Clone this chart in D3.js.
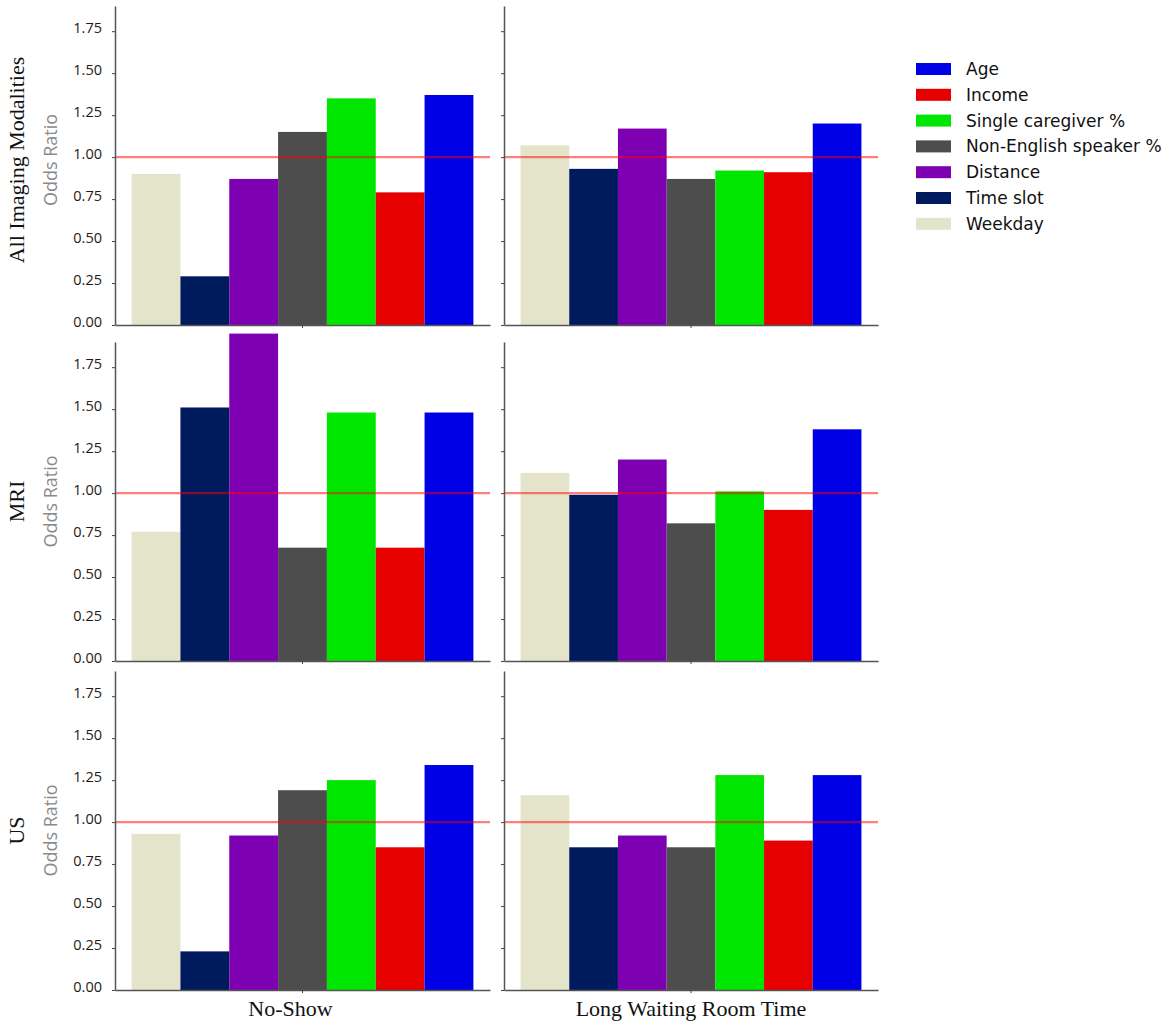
<!DOCTYPE html>
<html>
<head>
<meta charset="utf-8">
<script src="https://cdn.jsdelivr.net/npm/d3@7"></script>
<style>
  body { margin: 0; background: white; }
  svg { display: block; }
</style>
</head>
<body>
<svg></svg>
<script>
const factors = ['Weekday', 'Time slot', 'Distance', 'Non-English speaker %', 'Single caregiver %', 'Income', 'Age']
const factorColors = ['#e4e4cb', '#001a5e', '#7d00b2', '#4d4d4d', '#00e600', '#e60000', '#0000e6']
const outcomes = ['No-Show', 'Long Waiting Room Time']
const modalities = ['All Imaging Modalities', 'MRI', 'US']
const yTicks = [0, 0.25, 0.5, 0.75, 1.0, 1.25, 1.5, 1.75]

const allNoShow = [0.90, 0.29, 0.87, 1.15, 1.35, 0.79, 1.37]
const allWaiting = [1.07, 0.93, 1.17, 0.87, 0.92, 0.91, 1.20]
const mriNoShow = [0.77, 1.51, 1.95, 0.675, 1.48, 0.675, 1.48]
const mriWaiting = [1.12, 0.99, 1.20, 0.82, 1.01, 0.90, 1.38]
const usNoShow = [0.93, 0.23, 0.92, 1.19, 1.25, 0.85, 1.34]
const usWaiting = [1.16, 0.85, 0.92, 0.85, 1.28, 0.89, 1.28]

const panelValues = [
    [allNoShow, allWaiting],
    [mriNoShow, mriWaiting],
    [usNoShow, usWaiting]
]

function drawChart(){
    const width = 1170
    const height = 1024
    const rowBase = [325, 661, 990]
    const rowHeight = 319
    const colStart = [115, 504]
    const colEnd = [490, 878]

    let svg = d3.select('svg')
        .attr('width', width)
        .attr('height', height)

    const color = d3.scaleOrdinal().domain(factors).range(factorColors)

    modalities.forEach((mod, r) => {
        let yScale = d3.scaleLinear()
            .domain([0, 1.9])
            .range([rowBase[r], rowBase[r] - rowHeight])

        // row title + y label
        const cy = r == 0 ? 160 : (rowBase[r] + yScale(1.9)) / 2
        svg.append('text')
            .attr('transform', 'translate(16,' + cy + ') rotate(-90)')
            .attr('text-anchor', 'middle')
            .attr('dominant-baseline', 'central')
            .style('font-family', '"Liberation Serif", serif')
            .style('font-size', '22px')
            .attr('fill', '#111')
            .text(mod)
        svg.append('text')
            .attr('transform', 'translate(50,' + cy + ') rotate(-90)')
            .attr('text-anchor', 'middle')
            .attr('dominant-baseline', 'central')
            .style('font-family', '"Open Sans", sans-serif')
            .style('font-size', '18px')
            .attr('fill', '#8a8a8a')
            .text('Odds Ratio')

        outcomes.forEach((out, c) => {
            const datas = panelValues[r][c]
            let xScale = d3.scaleBand()
                .domain(factors)
                .range([colStart[c], colEnd[c]])
                .paddingInner(0)
                .paddingOuter(0.34)

            let g = svg.append('g')

            g.selectAll('rect')
                .data(datas)
                .enter()
                .append('rect')
                .attr('x', (d, i) => xScale(factors[i]))
                .attr('width', xScale.bandwidth())
                .attr('y', d => yScale(d))
                .attr('height', d => yScale(0) - yScale(d))
                .attr('fill', (d, i) => color(factors[i]))

            // reference line at odds ratio 1
            g.append('line')
                .attr('x1', colStart[c])
                .attr('x2', colEnd[c])
                .attr('y1', yScale(1))
                .attr('y2', yScale(1))
                .attr('stroke', '#ff0000')
                .attr('stroke-opacity', 0.5)
                .attr('stroke-width', 2.2)

            let yAxis = d3.axisLeft(yScale)
                .tickValues(yTicks)
                .tickSize(3)
                .tickSizeOuter(0)
                .tickPadding(10)
                .tickFormat(c == 0 ? d3.format('.2f') : '')
            let ya = g.append('g')
                .attr('transform', 'translate(' + colStart[c] + ',0)')
                .call(yAxis)
            ya.select('.domain').attr('stroke', '#555').attr('stroke-width', 1.5)
            ya.selectAll('.tick line').attr('stroke', '#444')
            ya.selectAll('.tick text')
                .attr('dy', '0.1em')
                .style('font-family', '"Open Sans", sans-serif')
                .style('font-size', '14.5px')
                .attr('fill', '#1a1a1a')

            let groupScale = d3.scaleBand()
                .domain([out])
                .range([colStart[c], colEnd[c]])
            let xAxis = d3.axisBottom(groupScale)
                .tickSize(3)
                .tickSizeOuter(0)
                .tickPadding(7)
                .tickFormat(r == 2 ? (d => d) : '')
            let xa = g.append('g')
                .attr('transform', 'translate(0,' + rowBase[r] + ')')
                .call(xAxis)
            xa.select('.domain').attr('stroke', '#555').attr('stroke-width', 1.5)
            xa.selectAll('.tick line').attr('stroke', '#444')
            xa.selectAll('.tick text')
                .attr('dx', c == 0 ? -12 : 0)
                .style('font-family', '"Liberation Serif", serif')
                .style('font-size', '22px')
                .attr('fill', '#111')
        })
    })

    // legend, reversed order
    const legendItems = factors.slice().reverse()
    let legend = svg.append('g')
    legendItems.forEach((name, i) => {
        const y = 69 + i * 25.8
        legend.append('rect')
            .attr('x', 916)
            .attr('y', y - 6)
            .attr('width', 35)
            .attr('height', 12)
            .attr('fill', color(name))
        legend.append('text')
            .attr('x', 966)
            .attr('y', y)
            .attr('dominant-baseline', 'central')
            .style('font-family', '"DejaVu Sans", sans-serif')
            .style('font-size', '17px')
            .attr('fill', '#111')
            .text(name)
    })
}

drawChart()
</script>
</body>
</html>
